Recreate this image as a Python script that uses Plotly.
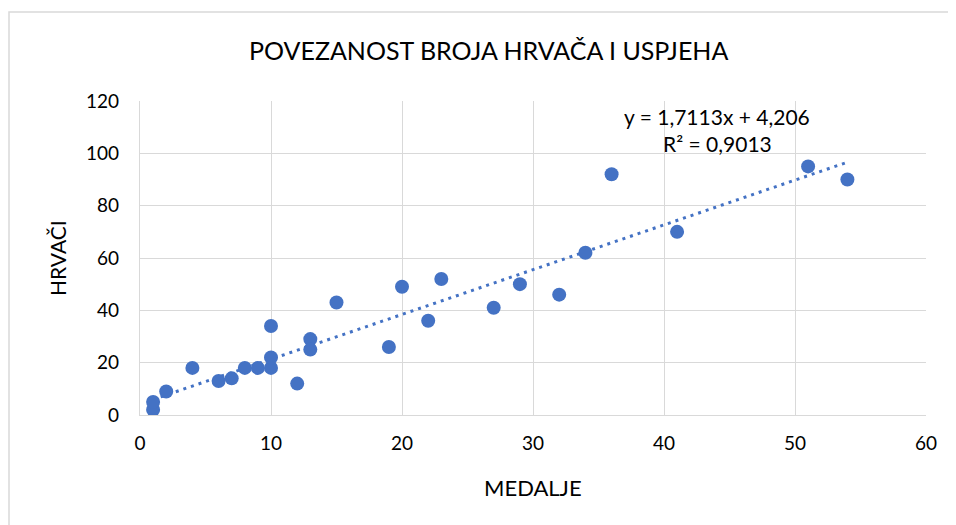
import plotly.graph_objects as go

# Data
medalje = [1, 1, 2, 4, 6, 7, 8, 9, 10, 10, 10, 12, 13, 13, 15, 19, 20, 22, 23, 27, 29, 32, 34, 36, 41, 51, 54]
hrvaci = [2, 5, 9, 18, 13, 14, 18, 18, 18, 22, 34, 12, 29, 25, 43, 26, 49, 36, 52, 41, 50, 46, 62, 92, 70, 95, 90]

x_ticks = [0, 10, 20, 30, 40, 50, 60]
y_ticks = [0, 20, 40, 60, 80, 100, 120]

slope = 1.7113
intercept = 4.206
eq_text = "y = 1,7113x + 4,206"
r2_text = "R² = 0,9013"

title = "POVEZANOST BROJA HRVAČA I USPJEHA"
x_title = "MEDALJE"
y_title = "HRVAČI"

blue = "#4472C4"
grid = "#D9D9D9"
font = "Lato"

trend_x = [min(medalje), max(medalje)]
trend_y = [slope * v + intercept for v in trend_x]

fig = go.Figure()
fig.add_trace(go.Scatter(
    x=trend_x, y=trend_y, mode="lines",
    line=dict(color=blue, width=3, dash="3px,5px"),
    hoverinfo="skip", showlegend=False,
))
fig.add_trace(go.Scatter(
    x=medalje, y=hrvaci, mode="markers",
    marker=dict(color=blue, size=14, line=dict(width=0)),
    showlegend=False,
))

# page body has an 8px margin, so target positions are shifted by OFF
OFF = 8
W, H = 956, 525
L, R, T, B = 140 - OFF, 30 + OFF, 101 - OFF, 110 + OFF
pw, ph = W - L - R, H - T - B

def px(xp):
    return (xp - OFF - L) / pw

def py(yp):
    return (H - B - (yp - OFF)) / ph

def note(text, x, y, size, angle=0):
    return dict(text=text, xref="paper", yref="paper", x=px(x), y=py(y),
                xanchor="center", yanchor="middle", showarrow=False, textangle=angle,
                font=dict(size=size, color="#000000", family=font))

fig.update_layout(
    width=W, height=H,
    margin=dict(l=L, r=R, t=T, b=B),
    paper_bgcolor="white", plot_bgcolor="white",
    font=dict(family=font, size=19, color="#404040"),
    xaxis=dict(
        range=[0, 60], tickvals=x_ticks, showgrid=True, gridcolor=grid, gridwidth=1.3,
        zeroline=False, showline=True, linecolor=grid, linewidth=1.3,
        ticks="", ticklabelstandoff=11, tickfont=dict(size=19, color="#000000"),
    ),
    yaxis=dict(
        range=[0, 120], tickvals=y_ticks, showgrid=True, gridcolor=grid, gridwidth=1.3,
        zeroline=False, showline=True, linecolor=grid, linewidth=1.3,
        ticks="", ticklabelstandoff=16, tickfont=dict(size=19, color="#000000"),
    ),
    shapes=[dict(
        type="rect", xref="paper", yref="paper",
        x0=px(9), x1=px(W + 20), y0=py(H + 20), y1=py(12),
        line=dict(color="#D9D9D9", width=1.5), fillcolor="rgba(0,0,0,0)", layer="below",
    )],
    annotations=[
        note(title, 488, 50, 25),
        note(x_title, 533, 487, 22),
        note(y_title, 57, 258, 21, -90),
        note(eq_text, 717, 116, 21),
        note(r2_text, 717, 143, 21),
    ],
)

fig.write_html("out.html")
